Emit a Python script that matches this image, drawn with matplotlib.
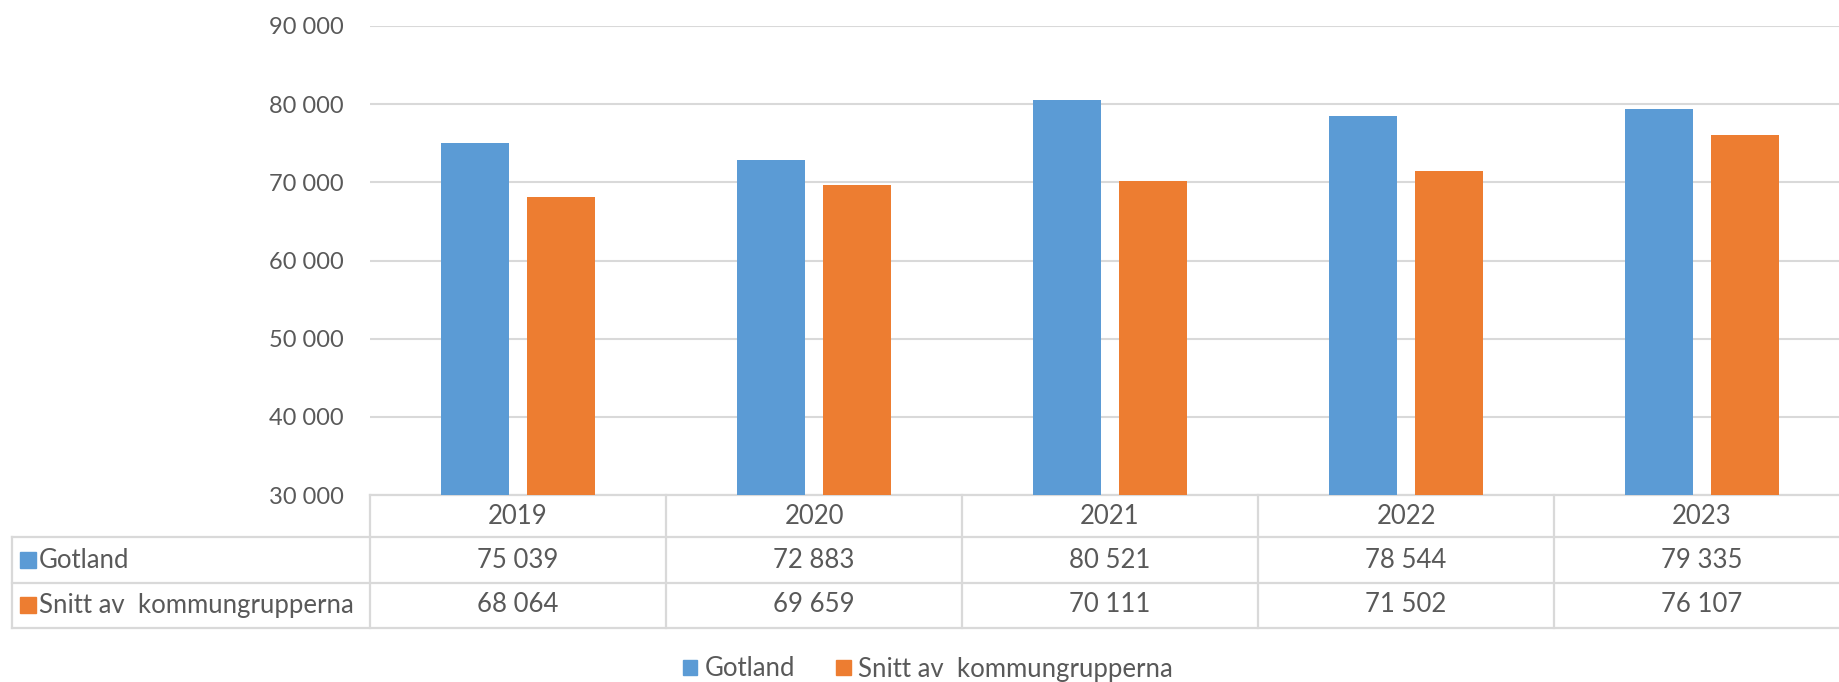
import matplotlib.pyplot as plt
from matplotlib.patches import Patch

years = ['2019', '2020', '2021', '2022', '2023']
gotland = [75039, 72883, 80521, 78544, 79335]
snitt = [68064, 69659, 70111, 71502, 76107]
series_names = ['Gotland', 'Snitt av  kommungrupperna']
yticks = [30000, 40000, 50000, 60000, 70000, 80000, 90000]

blue = '#5B9BD5'
orange = '#ED7D31'
txt = '#595959'
grid = '#D9D9D9'

plt.rcParams['font.family'] = ['Lato', 'DejaVu Sans']

W, H = 1840, 682
AW = 1480  # plot area runs slightly past the right edge
fig = plt.figure(figsize=(W / 100, H / 100), dpi=100)
# plot area in pixels: x 370..1850, y 26..495
ax = fig.add_axes([370 / W, 1 - 495 / H, AW / W, 469 / H])

def fmt(v):
    return f'{v:,}'.replace(',', ' ')

x = list(range(len(years)))
w = 0.23
ax.bar([i - 0.145 for i in x], gotland, width=w, color=blue, zorder=3)
ax.bar([i + 0.145 for i in x], snitt, width=w, color=orange, zorder=3)

ax.set_xlim(-0.5, len(years) - 0.5)
ax.set_ylim(30000, 90000)
ax.set_yticks(yticks)
ax.set_yticklabels([fmt(v) for v in yticks], fontsize=17, color=txt)
ax.set_xticks([])
ax.tick_params(axis='y', length=0, pad=19)
ax.grid(axis='y', color=grid, linewidth=1.5, zorder=0)
for s in ax.spines.values():
    s.set_visible(False)

# data table under the plot
def ay(py):
    return (495 - py) / 469

def axx(px):
    return (px - 370) / AW

fs = 18.5
bt = ax.get_xaxis_transform()
lk = dict(color=grid, linewidth=1.6, clip_on=False)
ax.plot([0, 1], [0, 0], transform=ax.transAxes, **lk)
for py in [537, 583, 628]:
    ax.plot([axx(12), 1], [ay(py), ay(py)], transform=ax.transAxes, **lk)
ax.plot([axx(12), axx(12)], [ay(537), ay(628)], transform=ax.transAxes, **lk)
for i in range(len(years) + 1):
    ax.plot([i - 0.5, i - 0.5], [0, ay(628)], transform=bt, **lk)

row_y = [ay(560), ay(605)]
for i, yr in enumerate(years):
    ax.text(i, ay(516), yr, transform=bt, ha='center', va='center', fontsize=fs, color=txt)
    ax.text(i, row_y[0], fmt(gotland[i]), transform=bt, ha='center', va='center', fontsize=fs, color=txt)
    ax.text(i, row_y[1], fmt(snitt[i]), transform=bt, ha='center', va='center', fontsize=fs, color=txt)

for name, col, yy in zip(series_names, [blue, orange], row_y):
    ax.plot([axx(28)], [yy], marker='s', markersize=11, color=col, transform=ax.transAxes, clip_on=False)
    ax.text(axx(39), yy, name, transform=ax.transAxes, ha='left', va='center', fontsize=fs, color=txt)

handles = [Patch(color=blue), Patch(color=orange)]
fig.legend(handles, series_names, loc='center', bbox_to_anchor=(928 / W, 1 - 669 / H), ncol=2,
           frameon=False, fontsize=fs, labelcolor=txt, handlelength=0.55, handleheight=0.55,
           handletextpad=0.3, columnspacing=1.6)

fig.savefig('out.png', dpi=100, facecolor='white')
